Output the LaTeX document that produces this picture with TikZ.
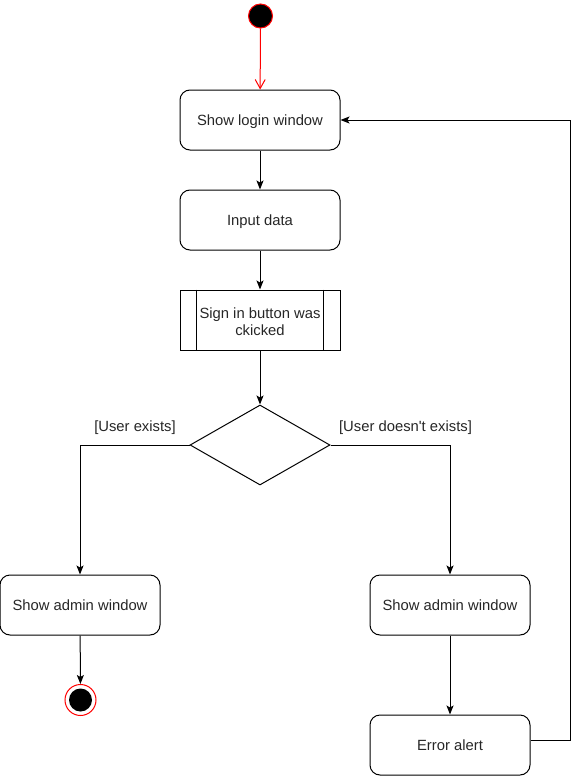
\documentclass[tikz,border=0pt]{standalone}
\usepackage{fontspec}
\setmainfont{Liberation Sans}
\newfontfamily\libsans{Liberation Sans}
\usetikzlibrary{arrows.meta,shapes.geometric}
\begin{document}
\begin{tikzpicture}[x=1pt,y=-1pt,line width=1pt,
  txt/.style={font=\libsans\fontsize{14.8}{17}\selectfont, text=black!85},
  act/.style={draw, rounded corners=10pt, minimum width=160pt, minimum height=60pt, inner sep=0pt, txt, text height=12pt, text depth=0.4pt},
  flow/.style={-{Stealth[length=9pt,width=7pt,inset=2pt]}},
]
\useasboundingbox (0,0) rectangle (579,776);
\node[draw=red, fill=black, circle, minimum size=24pt, inner sep=0pt] (start) at (260.5,16) {};
\node[act] (login) at (260,120) {Show login window};
\node[act] (input) at (260,220) {Input data};
\node[draw, minimum width=160pt, minimum height=60pt, inner sep=0pt] (sign) at (260,320) {};
\node[txt, align=center, inner sep=0pt] (signlbl) at (260,322) {Sign in button was\\ckicked};
\draw ([xshift=17pt]sign.north west) -- ([xshift=17pt]sign.south west);
\draw ([xshift=-17pt]sign.north east) -- ([xshift=-17pt]sign.south east);
\node[draw, diamond, minimum width=140pt, minimum height=80pt, inner sep=0pt, aspect=1.75] (dec) at (260,445) {};
\node[act] (adminL) at (80,605) {Show admin window};
\node[act] (adminR) at (450,605) {Show admin window};
\node[act] (err) at (450,745) {Error alert};
\node[draw=red, circle, minimum size=31pt, inner sep=0pt] (stop) at (80.5,700) {};
\node[fill=black, circle, minimum size=23pt, inner sep=0pt] (stopin) at (80.5,700) {};
\node[txt] (lblL) at (135,427.5) {[User exists]};
\node[txt] (lblR) at (405.5,427.5) {[User doesn't exists]};
\draw[red, -{Straight Barb[length=9pt,width=10pt]}] (start) -- (login);
\draw[flow] (login) -- (input);
\draw[flow] (input) -- (sign);
\draw[flow] (sign) -- (dec.north);
\draw[flow] (dec.west) -| (adminL.north);
\draw[flow] (dec.east) -| (adminR.north);
\draw[flow] (adminL) -- (stop);
\draw[flow] (adminR) -- (err);
\coordinate (eo) at ([yshift=5pt]err.east);
\coordinate (cr) at (570,740);
\coordinate (tr) at (570,120);
\draw[flow] (eo) -- (cr) -- (tr) -- (login.east);
\end{tikzpicture}
\end{document}
